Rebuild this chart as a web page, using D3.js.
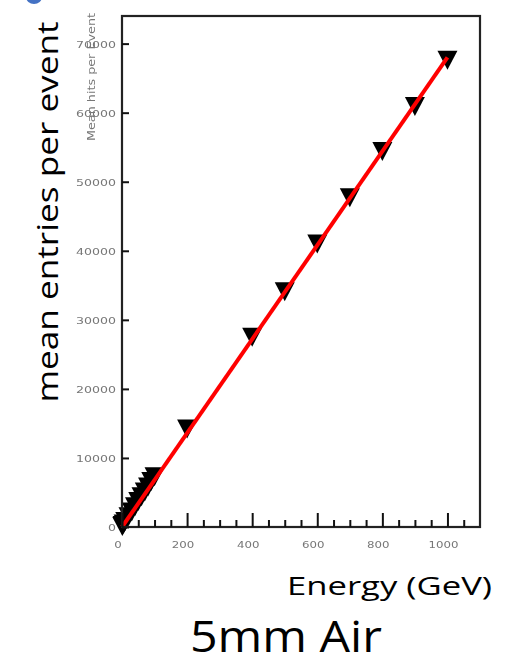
<!DOCTYPE html>
<html>
<head>
<meta charset="utf-8">
<script src="https://cdn.jsdelivr.net/npm/d3@7"></script>
<style>
  html, body { margin: 0; padding: 0; background: #fff; }
  svg { display: block; }
</style>
</head>
<body>
<svg id="chart" width="521" height="665"></svg>
<script>
// ---- data ----
const energies = [1, 2, 5, 10, 20, 30, 40, 50, 60, 70, 80, 90, 100, 200, 400, 500, 600, 700, 800, 900, 1000];
const meanEntries = [300, 450, 650, 1000, 1700, 2400, 3150, 3900, 4600, 5300, 6000, 6800, 7500, 14400, 27700, 34300, 41200, 47900, 54600, 61100, 67800];
const fitEnergy = [0, 1000];
const fitMean = [0, 68000];
const xTicks = [0, 200, 400, 600, 800, 1000];
const xMinorTicks = [50, 100, 150, 250, 300, 350, 450, 500, 550, 650, 700, 750, 850, 900, 950, 1050];
const yTicks = [0, 10000, 20000, 30000, 40000, 50000, 60000, 70000];
const innerYTitle = "Mean hits per Event";
const yTitle = "mean entries per event";
const xTitle = "Energy (GeV)";
const caption = "5mm Air";

// ---- layout ----
const svg = d3.select("#chart");
const L = 122, R = 480, T = 16, B = 527;
const x = d3.scaleLinear().domain([0, 1100]).range([L, R]);
const y = d3.scaleLinear().domain([0, 74000]).range([B, T]);

const defs = svg.append("defs");
defs.append("filter").attr("id", "soft")
  .append("feGaussianBlur").attr("stdDeviation", 0.55);

// blue fragment at top-left corner
svg.append("ellipse").attr("cx", 34).attr("cy", -3).attr("rx", 8).attr("ry", 7).attr("fill", "#4472c4");

// markers (drawn before the fit line)
const tri = "M-10,-8 L10,-8 L0,11 Z";
svg.append("g").selectAll("path").data(energies).join("path")
  .attr("d", tri)
  .attr("transform", (d, i) => `translate(${x(d)},${y(meanEntries[i])})`)
  .attr("fill", "#000");

// fit line
const line = d3.line().x(d => x(d[0])).y(d => y(d[1]));
svg.append("path")
  .datum(fitEnergy.map((e, i) => [e, fitMean[i]]))
  .attr("d", line)
  .attr("fill", "none")
  .attr("stroke", "#ff0000")
  .attr("stroke-width", 4);

// frame
svg.append("rect").attr("x", L).attr("y", T).attr("width", R - L).attr("height", B - T)
  .attr("fill", "none").attr("stroke", "#222").attr("stroke-width", 2.2);

// x axis ticks
const gx = svg.append("g").attr("transform", `translate(0,${B})`);
gx.call(d3.axisBottom(x).tickValues(xTicks).tickSize(-14).tickFormat(""));
gx.append("g").call(d3.axisBottom(x).tickValues(xMinorTicks).tickSize(-7).tickFormat(""));
gx.selectAll(".domain").remove();
gx.selectAll("line").attr("stroke", "#111").attr("stroke-width", 2);

// y axis ticks
const gy = svg.append("g").attr("transform", `translate(${L},0)`);
gy.call(d3.axisLeft(y).tickValues(yTicks).tickSize(-7).tickFormat(""));
gy.selectAll(".domain").remove();
gy.selectAll("line").attr("stroke", "#111").attr("stroke-width", 2);

// tick labels (small, grey, soft)
const lab = svg.append("g").attr("filter", "url(#soft)")
  .attr("font-family", "DejaVu Sans, sans-serif").attr("font-size", 9).attr("fill", "#777");
lab.selectAll("text.xl").data(xTicks).join("text").attr("class", "xl")
  .attr("x", d => x(d) - 4).attr("y", 548)
  .attr("text-anchor", "middle")
  .attr("textLength", d => String(d).length * 7.5).attr("lengthAdjust", "spacingAndGlyphs")
  .text(d => d);
lab.selectAll("text.yl").data(yTicks).join("text").attr("class", "yl")
  .attr("x", 116).attr("y", d => y(d) + 4)
  .attr("text-anchor", "end")
  .attr("textLength", d => String(d).length * 8).attr("lengthAdjust", "spacingAndGlyphs")
  .text(d => d);
lab.append("text")
  .attr("transform", "translate(95,13) rotate(-90)")
  .attr("text-anchor", "end")
  .attr("font-size", 10)
  .attr("textLength", 128).attr("lengthAdjust", "spacingAndGlyphs")
  .text(innerYTitle);

// big labels
svg.append("text")
  .attr("transform", "translate(58,212) rotate(-90)")
  .attr("text-anchor", "middle")
  .attr("font-family", "Open Sans, sans-serif").attr("font-size", 30).attr("fill", "#000")
  .attr("textLength", 381).attr("lengthAdjust", "spacingAndGlyphs")
  .text(yTitle);
svg.append("text")
  .attr("x", 287).attr("y", 595)
  .attr("font-family", "Open Sans, sans-serif").attr("font-size", 25).attr("fill", "#000")
  .attr("textLength", 205).attr("lengthAdjust", "spacingAndGlyphs")
  .text(xTitle);
svg.append("text")
  .attr("x", 286).attr("y", 652)
  .attr("text-anchor", "middle")
  .attr("font-family", "Open Sans, sans-serif").attr("font-size", 44).attr("fill", "#000")
  .attr("textLength", 192).attr("lengthAdjust", "spacingAndGlyphs")
  .text(caption);
</script>
</body>
</html>
